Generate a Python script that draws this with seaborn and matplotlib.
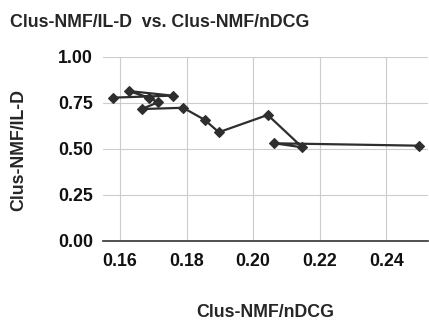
import matplotlib
matplotlib.use("Agg")
import matplotlib.pyplot as plt
import seaborn as sns
import pandas as pd

# Clus-NMF results: nDCG against IL-D, in run order
ndcg = [0.1578, 0.1758, 0.1626, 0.1688, 0.1715, 0.1665, 0.1790,
        0.1855, 0.1897, 0.2044, 0.2148, 0.2064, 0.2498]
ild = [0.779, 0.790, 0.815, 0.779, 0.754, 0.717, 0.724,
       0.658, 0.591, 0.685, 0.509, 0.531, 0.518]
x_ticks = [0.16, 0.18, 0.20, 0.22, 0.24]
y_ticks = [0.00, 0.25, 0.50, 0.75, 1.00]

df = pd.DataFrame({"ndcg": ndcg, "ild": ild, "order": range(len(ndcg))})

sns.set_theme(style="white")
plt.rcParams["font.family"] = ["Liberation Sans", "DejaVu Sans"]
plt.rcParams["font.weight"] = "bold"

fig = plt.figure(figsize=(4.29, 3.22), dpi=100)
ax = fig.add_axes([0.240, 0.2516, 0.758, 0.5714])

sns.lineplot(data=df, x="ndcg", y="ild", sort=False, estimator=None,
             color="#2e2e2e", linewidth=1.6, marker="D", markersize=5.3,
             markeredgewidth=0.8, markeredgecolor="#2e2e2e", ax=ax, zorder=3)

ax.set_xlim(0.1549, 0.2526)
ax.set_ylim(0.0, 1.0)
ax.set_xticks(x_ticks)
ax.set_yticks(y_ticks)
ax.set_xticklabels([f"{v:.2f}" for v in x_ticks], fontsize=12.8, fontweight="bold")
ax.set_yticklabels([f"{v:.2f}" for v in y_ticks], fontsize=12.8, fontweight="bold")
ax.tick_params(axis="both", length=0, colors="#111111")
ax.tick_params(axis="x", pad=9)
ax.tick_params(axis="y", pad=7)

ax.grid(True, color="#cccccc", linewidth=0.8)
ax.set_axisbelow(True)
for side in ["left", "right", "top"]:
    ax.spines[side].set_visible(False)
ax.spines["bottom"].set_color("#333333")
ax.spines["bottom"].set_linewidth(1.2)

ax.set_xlabel("Clus-NMF/nDCG", fontsize=12.8, fontweight="bold")
ax.set_ylabel("Clus-NMF/IL-D", fontsize=12.8, fontweight="bold")
ax.xaxis.set_label_coords(0.5, -0.345)
ax.yaxis.set_label_coords(-0.232, 0.497)

fig.text(0.023, 0.916, "Clus-NMF/IL-D  vs. Clus-NMF/nDCG", fontsize=12.8,
         fontweight="bold", ha="left", va="baseline")

fig.savefig("out.png", dpi=100)
